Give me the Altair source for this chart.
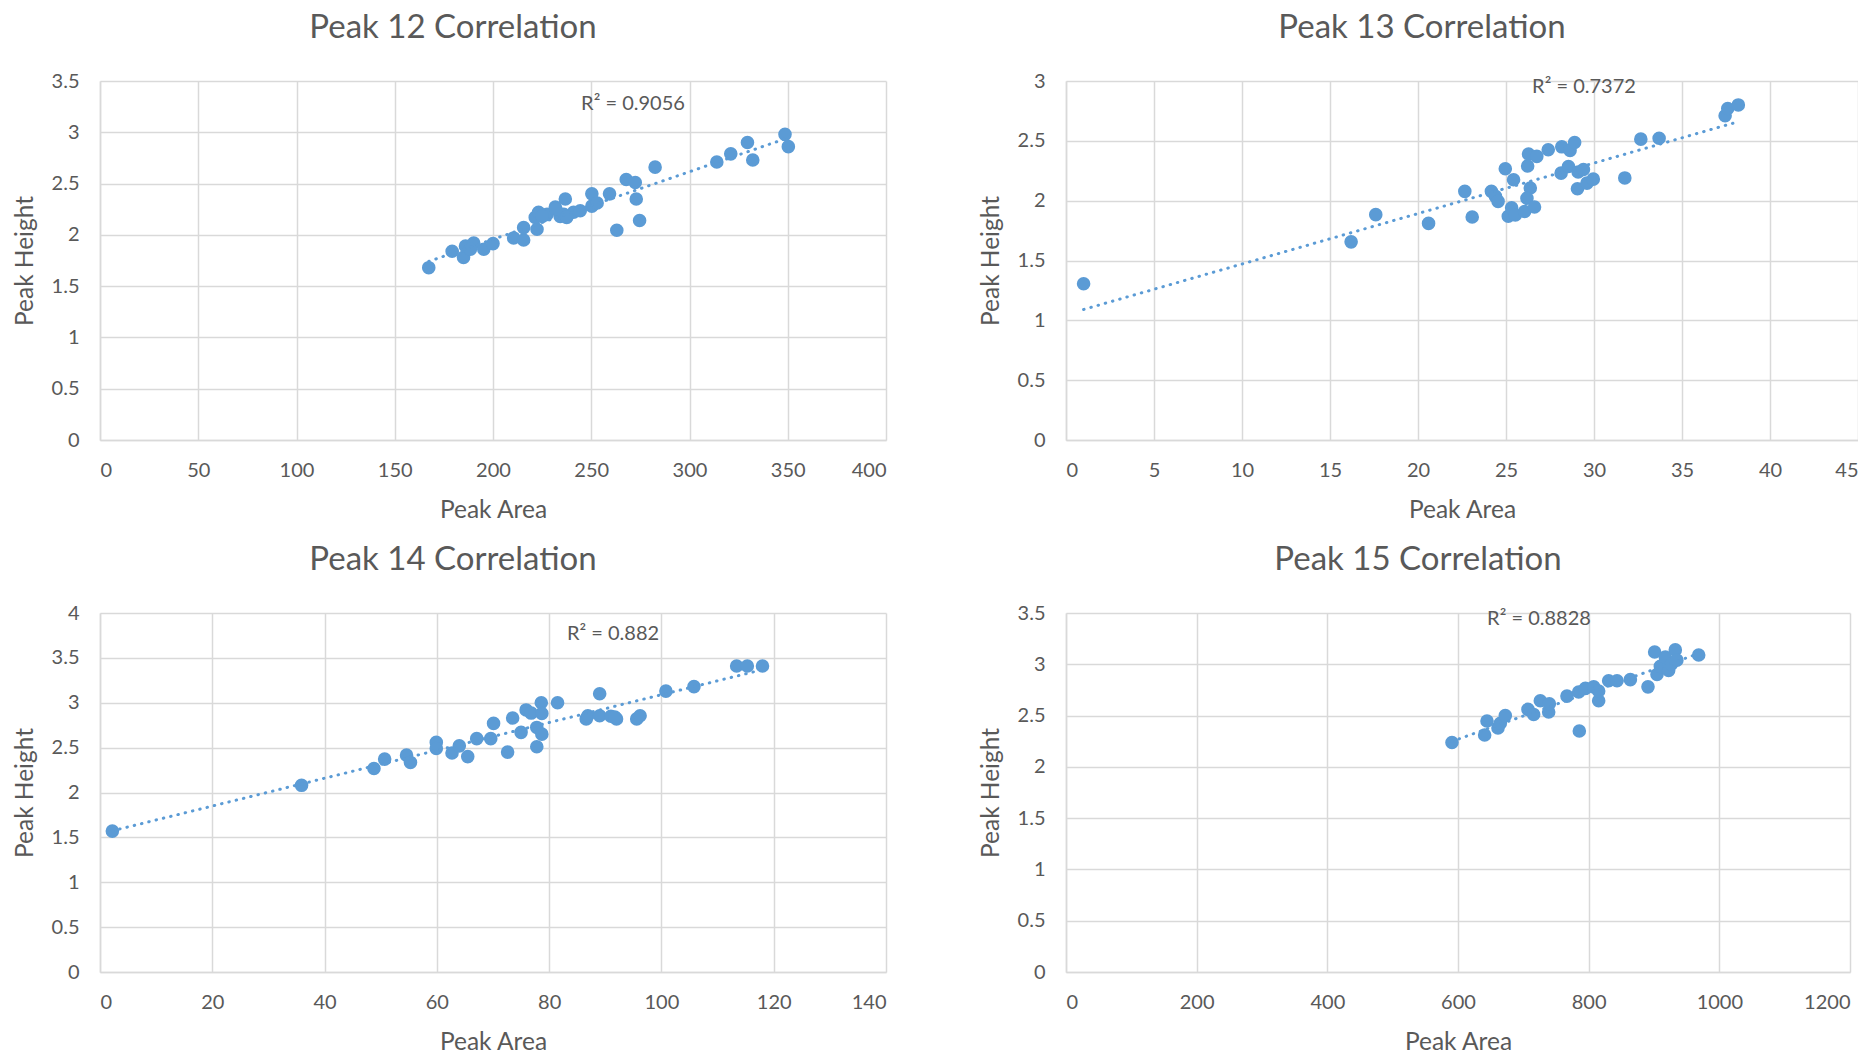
import altair as alt
import pandas as pd

# ---------------- data ----------------
p12_area = [167.3, 179.2, 185.0, 186.0, 190.2, 188.5, 195.3, 200.0, 210.5, 215.6, 215.6, 222.4,
            221.5, 223.2, 227.5, 231.7, 234.2, 236.0, 236.8, 241.0, 244.4, 250.3, 250.3, 253.0,
            259.3, 263.0, 267.8, 272.4, 272.9, 274.6, 282.5, 313.9, 321.0, 329.5, 332.2, 348.6,
            350.3, 225.0, 232.0, 237.5]
p12_height = [1.68, 1.84, 1.78, 1.89, 1.92, 1.86, 1.86, 1.915, 1.97, 1.95, 2.07, 2.055,
              2.17, 2.22, 2.20, 2.27, 2.18, 2.20, 2.35, 2.22, 2.235, 2.40, 2.28, 2.31,
              2.40, 2.045, 2.54, 2.51, 2.35, 2.14, 2.66, 2.71, 2.79, 2.90, 2.73, 2.98,
              2.86, 2.18, 2.25, 2.17]

p13_area = [1.0, 16.2, 17.6, 20.6, 22.66, 23.08, 24.17, 24.4, 24.55, 24.96, 25.43, 25.13,
            25.32, 25.53, 26.06, 26.38, 26.19, 26.62, 26.23, 26.28, 26.75, 27.4, 28.17, 28.64,
            28.9, 28.13, 28.55, 29.1, 29.4, 29.06, 29.6, 29.96, 31.75, 32.66, 33.7, 37.45,
            37.6, 38.2]
p13_height = [1.306, 1.656, 1.883, 1.81, 2.078, 1.864, 2.078, 2.036, 1.994, 2.267, 2.175, 1.87,
              1.94, 1.88, 1.91, 2.106, 2.02, 1.947, 2.29, 2.39, 2.37, 2.425, 2.45, 2.42,
              2.486, 2.23, 2.286, 2.24, 2.26, 2.10, 2.147, 2.18, 2.19, 2.514, 2.522, 2.71,
              2.77, 2.80]

p14_area = [2.2, 35.9, 48.8, 50.7, 54.6, 55.3, 59.9, 59.9, 62.7, 64.0, 65.5, 67.1,
            69.6, 70.1, 72.6, 73.5, 75.0, 75.9, 76.8, 77.8, 77.8, 78.6, 78.7, 78.7,
            81.5, 86.6, 86.9, 89.0, 89.0, 91.0, 92.0, 91.7, 95.6, 96.2, 100.8, 105.8,
            113.4, 115.3, 118.0]
p14_height = [1.57, 2.08, 2.268, 2.372, 2.416, 2.335, 2.558, 2.49, 2.44, 2.52, 2.40, 2.60,
              2.60, 2.77, 2.45, 2.83, 2.67, 2.92, 2.885, 2.725, 2.51, 3.00, 2.88, 2.65,
              3.00, 2.82, 2.855, 3.10, 2.855, 2.85, 2.82, 2.84, 2.82, 2.855, 3.13, 3.18,
              3.41, 3.41, 3.41]

p15_area = [590.8, 640.8, 644.4, 661.2, 664.8, 672.4, 707.1, 715.8, 726.0, 738.8, 739.8, 766.8,
            785.7, 784.7, 795.0, 807.7, 815.3, 815.3, 830.6, 843.4, 863.8, 890.8, 901.0, 904.6,
            909.7, 917.3, 922.4, 926.5, 932.6, 935.0, 968.4]
p15_height = [2.238, 2.31, 2.447, 2.38, 2.425, 2.50, 2.56, 2.51, 2.645, 2.535, 2.615, 2.69,
              2.35, 2.73, 2.765, 2.78, 2.645, 2.74, 2.84, 2.84, 2.85, 2.78, 3.12, 2.90,
              2.98, 3.07, 2.94, 3.00, 3.14, 3.04, 3.09]

titles = ["Peak 12 Correlation", "Peak 13 Correlation", "Peak 14 Correlation", "Peak 15 Correlation"]
r2_labels = ["R² = 0.9056", "R² = 0.7372", "R² = 0.882", "R² = 0.8828"]

x_ticks = [
    [0, 50, 100, 150, 200, 250, 300, 350, 400],
    [0, 5, 10, 15, 20, 25, 30, 35, 40, 45],
    [0, 20, 40, 60, 80, 100, 120, 140],
    [0, 200, 400, 600, 800, 1000, 1200],
]
y_ticks = [
    [0, 0.5, 1, 1.5, 2, 2.5, 3, 3.5],
    [0, 0.5, 1, 1.5, 2, 2.5, 3],
    [0, 0.5, 1, 1.5, 2, 2.5, 3, 3.5, 4],
    [0, 0.5, 1, 1.5, 2, 2.5, 3, 3.5],
]

BLUE = "#5B9BD5"
TXT = "#595959"


def panel(area, height, title, r2, xt, yt, w, h, r2x, r2y):
    df = pd.DataFrame({"area": area, "height": height})
    xenc = alt.X("area:Q", title="Peak Area",
                 scale=alt.Scale(domain=[xt[0], xt[-1]], nice=False, zero=False),
                 axis=alt.Axis(values=xt, labelExpr="datum.value + ''"))
    yenc = alt.Y("height:Q", title="Peak Height",
                 scale=alt.Scale(domain=[yt[0], yt[-1]], nice=False, zero=False),
                 axis=alt.Axis(values=yt, labelExpr="datum.value + ''"))
    pts = alt.Chart(df).mark_circle(size=185, opacity=1, color=BLUE).encode(x=xenc, y=yenc)
    line = alt.Chart(df).transform_regression("area", "height", method="linear").mark_line(
        color=BLUE, strokeWidth=3, strokeDash=[0.5, 7], strokeCap="round"
    ).encode(x="area:Q", y="height:Q")
    txt = alt.Chart(pd.DataFrame({"label": [r2]})).mark_text(
        font="Lato", fontSize=20, color=TXT, align="center", baseline="middle"
    ).encode(x=alt.value(r2x), y=alt.value(r2y), text="label:N")
    return alt.layer(pts, line, txt).properties(
        width=w, height=h, title=alt.TitleParams(title, dx=-40)
    )


c1 = panel(p12_area, p12_height, titles[0], r2_labels[0], x_ticks[0], y_ticks[0], 786, 359, 533, 23)
c2 = panel(p13_area, p13_height, titles[1], r2_labels[1], x_ticks[1], y_ticks[1], 792, 359, 518, 6)
c3 = panel(p14_area, p14_height, titles[2], r2_labels[2], x_ticks[2], y_ticks[2], 786, 359, 513, 21)
c4 = panel(p15_area, p15_height, titles[3], r2_labels[3], x_ticks[3], y_ticks[3], 784, 359, 473, 6)

row1 = alt.hconcat(c1, c2, spacing=92)
row2 = alt.hconcat(c3, c4, spacing=92)

chart = alt.vconcat(row1, row2, spacing=22).properties(
    padding={"left": 12, "top": 12, "right": 0, "bottom": 0},
    background="white",
).configure_view(stroke=None).configure_axis(
    gridColor="#D9D9D9", gridWidth=1.5,
    domainColor="#D9D9D9", domainWidth=1.5,
    ticks=False,
    labelFont="Lato", labelFontSize=20, labelColor=TXT,
    titleFont="Lato", titleFontSize=24.5, titleColor=TXT, titleFontWeight="normal",
).configure_axisX(
    labelPadding=20, titlePadding=18,
).configure_axisY(
    labelPadding=21, titlePadding=14,
).configure_title(
    font="Lato", fontSize=33, color=TXT, fontWeight="normal", offset=26, anchor="middle"
)

chart.save("out.html", embed_options={"renderer": "svg", "actions": False})
